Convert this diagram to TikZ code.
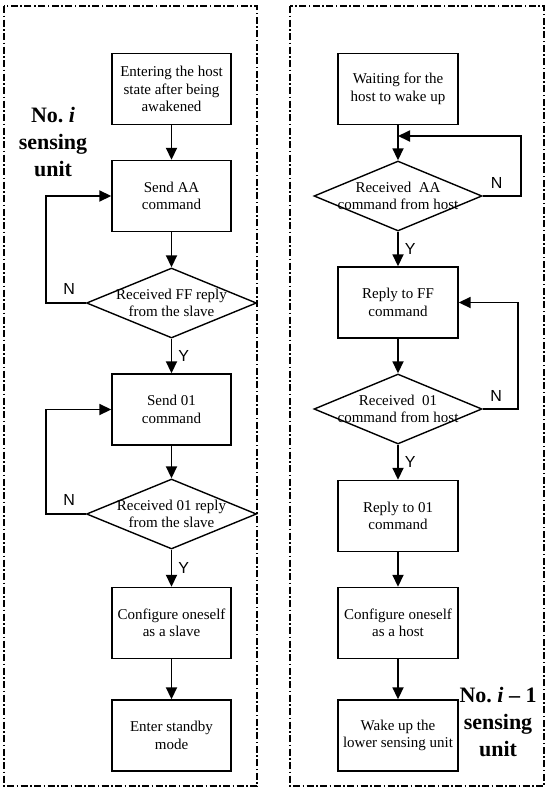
\documentclass[tikz,border=0pt]{standalone}
\usepackage{fontspec}
\setmainfont{Liberation Serif}
\newfontfamily\ynfont{Liberation Sans}
\usetikzlibrary{arrows.meta,positioning,shapes.geometric}
\tikzset{
  blk/.style={rectangle,draw=black,line width=1.4pt,minimum width=119pt,minimum height=71pt,
    inner sep=0pt,align=center,font=\fontsize{15}{17.5}\selectfont},
  dec/.style={diamond,draw=black,line width=1.4pt,minimum width=170pt,minimum height=70pt,
    inner sep=-6pt,aspect=2.43,align=center,font=\fontsize{15}{17.5}\selectfont},
  arr/.style={line width=1.8pt,-{Triangle[length=12pt,width=11pt]}},
  yn/.style={font=\ynfont\fontsize{16}{18}\selectfont,inner sep=2pt},
  unitlbl/.style={align=center,font=\bfseries\fontsize{22}{27}\selectfont,inner sep=0pt},
  frame/.style={line width=1.1pt,dash pattern=on 7pt off 2.5pt on 1.5pt off 2.5pt}
}
\begin{document}
\begin{tikzpicture}[x=1pt,y=-1pt]
\useasboundingbox (0,0) rectangle (550,790);
% \draw[help lines] (0,0) grid (550,790);
\draw[frame] (4,6) rectangle (257,786);
\draw[frame] (290,6) rectangle (544,786);
%
\node (a1) [blk] at (171.5,89) {Entering the host\\state after being\\awakened};
\node (a2) [blk] at (171.5,196) {Send AA\\command};
\node (a3) [dec] at (171.5,303) {Received FF reply\\from the slave};
\node (a4) [blk] at (171.5,409.5) {Send 01\\command};
\node (a5) [dec] at (171.5,514) {Received 01 reply\\from the slave};
\node (a6) [blk] at (171.5,623) {Configure oneself\\as a slave};
\node (a7) [blk] at (171.5,735.5) {Enter standby\\mode};
\node (ua) [unitlbl] at (53,142) {No.\ \textit{i}\\sensing\\unit};
%
\node (b1) [blk,minimum width=120pt] at (398,89) {Waiting for the\\host to wake up};
\node (b2) [dec,minimum width=168pt] at (398,196) {Received\ \ AA\\command from host};
\node (b3) [blk,minimum width=120pt] at (398,302.5) {Reply to FF\\command};
\node (b4) [dec,minimum width=168pt] at (398,409) {Received\ \ 01\\command from host};
\node (b5) [blk,minimum width=120pt] at (398,516) {Reply to 01\\command};
\node (b6) [blk,minimum width=120pt] at (398,623) {Configure oneself\\as a host};
\node (b7) [blk,minimum width=120pt] at (398,735.5) {Wake up the\\lower sensing unit};
\node (ub) [unitlbl] at (498,722) {No.\ \textit{i} -- 1\\sensing\\unit};
\coordinate (jb) at (398,136);
%
\draw[arr] (a1) -- (a2);
\draw[arr] (a2) -- (a3);
\draw[arr] (a3) -- node[yn,right=4pt] {Y} (a4);
\draw[arr] (a4) -- (a5);
\draw[arr] (a5) -- node[yn,right=4pt] {Y} (a6);
\draw[arr] (a6) -- (a7);
\draw[arr] (a3.west) -- node[yn,above=6pt,xshift=3pt] {N} +(-39.5,0) |- (a2.west);
\draw[arr] (a5.west) -- node[yn,above=6pt,xshift=3pt] {N} +(-39.5,0) |- (a4.west);
%
\draw[arr] (b1) -- (b2);
\draw[arr] (b2) -- node[yn,right=4pt] {Y} (b3);
\draw[arr] (b3) -- (b4);
\draw[arr] (b4) -- node[yn,right=4pt] {Y} (b5);
\draw[arr] (b5) -- (b6);
\draw[arr] (b6) -- (b7);
\draw[arr] (b2.east) -- node[yn,above=5pt,xshift=-5pt] {N} +(38,0) |- (jb);
\draw[arr] (b4.east) -- node[yn,above=5pt,xshift=-4pt] {N} +(35,0) |- (b3.east);
\end{tikzpicture}
\end{document}
